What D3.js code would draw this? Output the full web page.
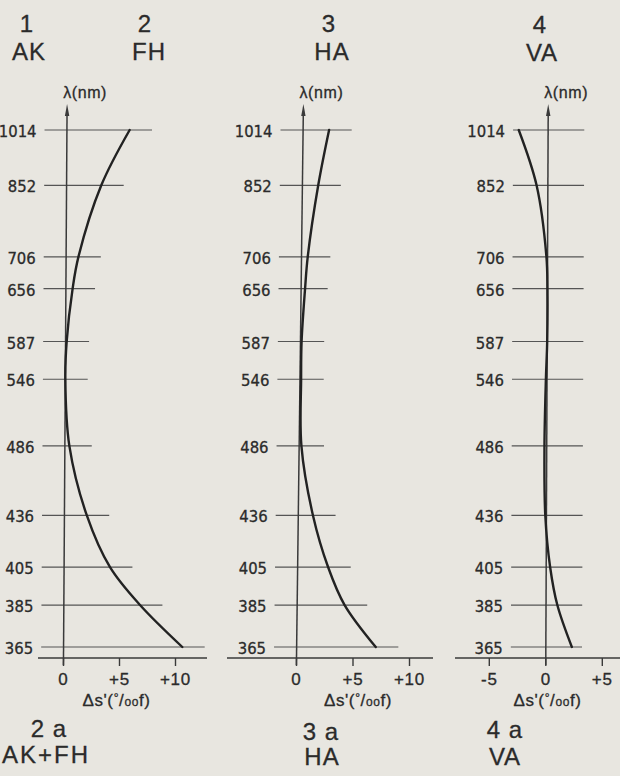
<!DOCTYPE html>
<html>
<head>
<meta charset="utf-8">
<script src="https://cdn.jsdelivr.net/npm/d3@7"></script>
<style>
  html, body { margin: 0; padding: 0; background: #e8e6e0; }
  svg { display: block; }
  text { fill: #2b2b2b; stroke: #2b2b2b; stroke-width: 0.3px; }
</style>
</head>
<body>
<svg id="chart" width="620" height="776"></svg>
<script>
// ---- data ----
const wavelengths = [1014, 852, 706, 656, 587, 546, 486, 436, 405, 385, 365];
const akfh = [5.6, 3.1, 1.1, 0.6, 0.1, 0.0, 0.4, 2.0, 4.1, 6.8, 10.6];
const ha   = [2.3, 1.4, 0.55, 0.35, 0.1, 0.1, 0.2, 1.3, 2.7, 4.2, 7.0];
const va   = [-2.6, -1.0, -0.1, 0.0, 0.0, -0.1, -0.2, -0.1, 0.35, 1.0, 2.3];
const xTicksAKFH = [0, 5, 10];
const xTicksHA = [0, 5, 10];
const xTicksVA = [-5, 0, 5];
const tickFmt = v => v > 0 ? "+" + v : String(v);
const yTitle = "λ(nm)";

const svg = d3.select("#chart");
const axisY = 658;
const y = d3.scaleLinear().domain([1 / 1014, 1 / 365]).range([130, 647]);
const yOf = l => y(1 / l);

const panels = [
  { values: akfh, ticks: xTicksAKFH, dom: [0, 10], range: [63.5, 175.5], k: 0.0065,
    lineFrom: () => -2, lineTo: v => Math.max(v, 0) + 2, base: [38, 207], titleX: 116.5 },
  { values: ha, ticks: xTicksHA, dom: [0, 10], range: [296.5, 409.5], k: 0.0125,
    lineFrom: () => -2, lineTo: v => Math.max(v, 0) + 2, base: [227, 433], titleX: 358 },
  { values: va, ticks: xTicksVA, dom: [-5, 5], range: [489.3, 602.3], k: 0.0044,
    lineFrom: () => -3.1, lineTo: () => 3.2, base: [455, 620], titleX: 547.5 }
];

const ink = "#3a3a3a";
const sans = "'Liberation Sans', Arimo, Helvetica, sans-serif";

panels.forEach(p => {
  const x = d3.scaleLinear().domain(p.dom).range(p.range);
  const sx = (v, yy) => x(v) + (axisY - yy) * p.k;
  const g = svg.append("g");

  // horizontal wavelength lines
  g.selectAll("line.h").data(wavelengths).join("line")
    .attr("x1", (l, i) => sx(p.lineFrom(p.values[i]), yOf(l)))
    .attr("x2", (l, i) => sx(p.lineTo(p.values[i]), yOf(l)))
    .attr("y1", l => yOf(l)).attr("y2", l => yOf(l))
    .attr("stroke", "#555").attr("stroke-width", 1.2);

  // wavelength labels
  g.selectAll("text.yl").data(wavelengths).join("text")
    .attr("x", (l, i) => sx(p.lineFrom(p.values[i]), yOf(l)) - 8)
    .attr("y", l => yOf(l) + 7)
    .attr("text-anchor", "end")
    .attr("font-family", "'Liberation Sans Narrow', 'DejaVu Sans Condensed', sans-serif")
    .attr("font-size", 16.5)
    .text(d => d);

  // vertical axis
  const topY = 107, botY = 665;
  g.append("line")
    .attr("x1", sx(0, botY)).attr("y1", botY)
    .attr("x2", sx(0, topY + 6)).attr("y2", topY + 6)
    .attr("stroke", ink).attr("stroke-width", 1.5);
  const ax = sx(0, topY);
  g.append("path")
    .attr("d", `M${ax},${topY - 3} L${ax - 2.2},${topY + 9} L${ax + 2.2},${topY + 9} Z`)
    .attr("fill", ink);
  g.append("text")
    .attr("x", ax + 18).attr("y", 98)
    .attr("text-anchor", "middle")
    .attr("font-family", sans)
    .attr("font-size", 16).attr("letter-spacing", 0.6)
    .text(yTitle);

  // baseline (x axis)
  g.append("line")
    .attr("x1", p.base[0]).attr("x2", p.base[1])
    .attr("y1", axisY).attr("y2", axisY)
    .attr("stroke", ink).attr("stroke-width", 1.4);

  // x ticks
  g.selectAll("line.xt").data(p.ticks).join("line")
    .attr("x1", d => x(d)).attr("x2", d => x(d))
    .attr("y1", axisY).attr("y2", axisY + 8)
    .attr("stroke", ink).attr("stroke-width", 1.4);
  g.selectAll("text.xt").data(p.ticks).join("text")
    .attr("x", d => x(d)).attr("y", 685)
    .attr("text-anchor", "middle")
    .attr("font-family", sans)
    .attr("font-size", 17).attr("letter-spacing", 0.8)
    .text(tickFmt);

  // x title  Δs'(°/oo f)
  const xt = g.append("text")
    .attr("x", p.titleX).attr("y", 706)
    .attr("text-anchor", "middle")
    .attr("font-family", sans)
    .attr("font-size", 17).attr("letter-spacing", 0.6);
  xt.append("tspan").text("Δs'(");
  xt.append("tspan").attr("font-size", 12).attr("dy", -4).text("°");
  xt.append("tspan").attr("dy", 4).text("/");
  xt.append("tspan").attr("font-size", 12).text("oo");
  xt.append("tspan").text("f)");

  // curve
  const pts = wavelengths.map((l, i) => [sx(p.values[i], yOf(l)), yOf(l)]);
  g.append("path")
    .attr("d", d3.line().curve(d3.curveCatmullRom.alpha(0.5))(pts))
    .attr("fill", "none").attr("stroke", "#222").attr("stroke-width", 2.4)
    .attr("stroke-linecap", "round");
});

// panel titles
const titles = [
  { t: "1", x: 27, y: 32 }, { t: "AK", x: 29, y: 60 },
  { t: "2", x: 145, y: 32 }, { t: "FH", x: 149, y: 60 },
  { t: "3", x: 329, y: 32 }, { t: "HA", x: 332, y: 60 },
  { t: "4", x: 540, y: 33 }, { t: "VA", x: 542, y: 61 },
  { t: "2 a", x: 49, y: 737 }, { t: "AK+FH", x: 46, y: 763 },
  { t: "3 a", x: 321, y: 740 }, { t: "HA", x: 322, y: 765 },
  { t: "4 a", x: 505, y: 738 }, { t: "VA", x: 505, y: 765 }
];
svg.selectAll("text.title").data(titles).join("text")
  .attr("x", d => d.x).attr("y", d => d.y)
  .attr("text-anchor", "middle")
  .attr("font-family", sans)
  .attr("font-size", 24).attr("letter-spacing", d => d.t === "AK+FH" ? 2 : 1)
  .text(d => d.t);
</script>
</body>
</html>
